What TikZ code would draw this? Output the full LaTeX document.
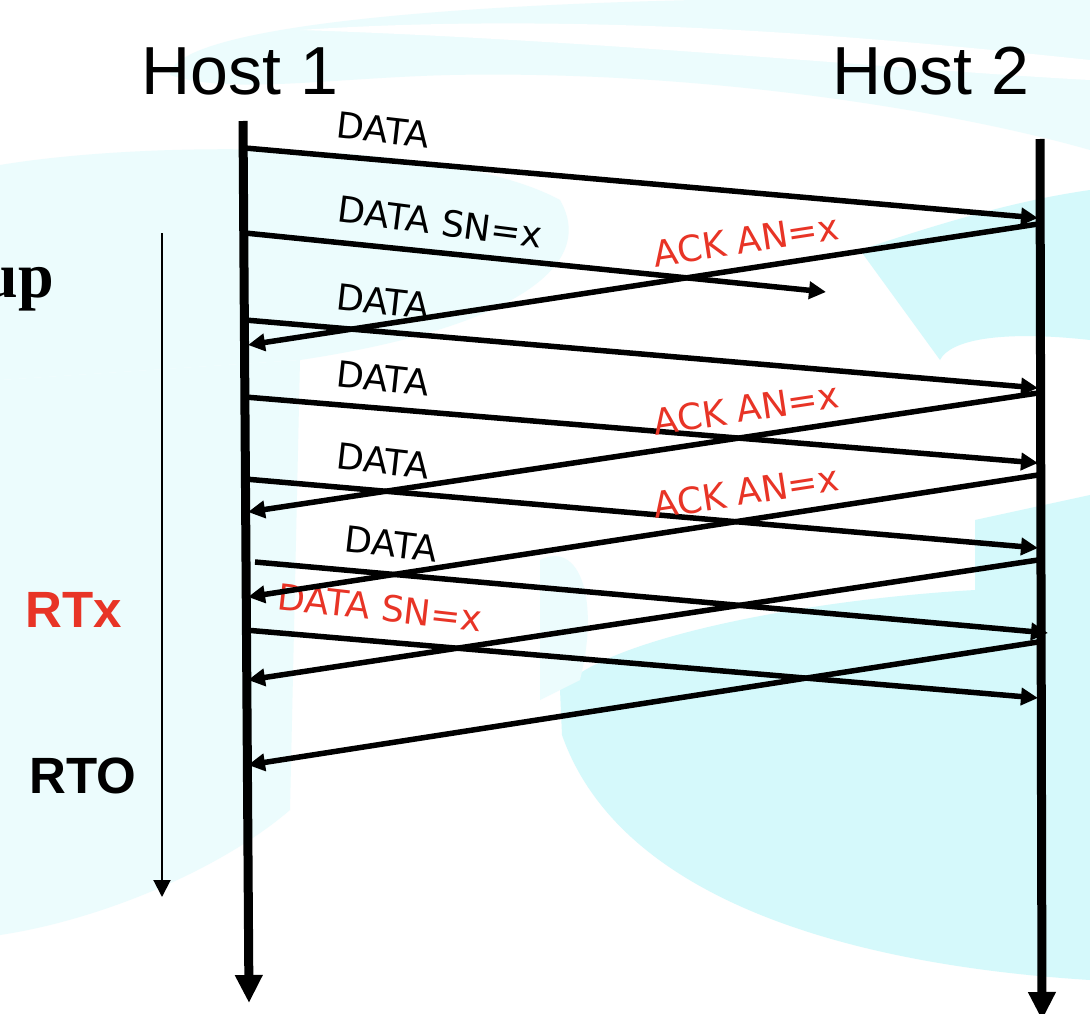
\documentclass[tikz,border=0pt]{standalone}
\usepackage{fontspec}
\setmainfont{Liberation Sans}
\newfontfamily\msgfont{DejaVu Sans}
\newfontfamily\serifbold{Liberation Serif}
\usetikzlibrary{arrows.meta}

\definecolor{ackred}{RGB}{232,52,38}
\definecolor{bglight}{RGB}{236,252,253}
\definecolor{bgcyan}{RGB}{213,249,251}

\tikzset{
  hostline/.style={line width=9pt, -{Triangle[length=28pt,width=26pt]}},
  msg/.style={line width=5.5pt, -{Triangle[length=17pt,width=17pt]}},
  timer/.style={line width=2pt, -{Triangle[length=17pt,width=17pt]}},
  msglbl/.style={font=\msgfont\fontsize{36}{42}\selectfont, sloped, above=11pt},
  hostlbl/.style={font=\fontsize{68}{80}\selectfont, anchor=base},
  sidelbl/.style={font=\bfseries\fontsize{51}{60}\selectfont, anchor=base}
}

\begin{document}
\begin{tikzpicture}[x=1pt, y=-1pt]
  \useasboundingbox (0,0) rectangle (1090,1014);
  \fill[white] (0,0) rectangle (1090,1014);

  % background swooshes
  \fill[bglight] (170,75) .. controls (175,15) and (600,-10) .. (1090,0) -- (1090,150)
    .. controls (950,110) and (700,70) .. (450,75) .. controls (330,78) and (230,95) .. cycle;
  \fill[white] (300,30) .. controls (600,10) and (900,40) .. (1090,60) -- (1090,80)
    .. controls (900,70) and (600,40) .. cycle;
  \fill[bglight] (0,165) .. controls (150,140) and (450,140) .. (560,200)
    .. controls (600,270) and (500,330) .. (300,360) -- (0,380) -- cycle;
  \fill[bglight] (0,380) -- (300,360) -- (290,810) .. controls (220,870) and (100,920) .. (0,935) -- cycle;
  \fill[bgcyan] (860,250) .. controls (950,220) and (1020,200) .. (1090,190) -- (1090,340)
    .. controls (1000,330) and (950,340) .. (940,360) -- cycle;
  \fill[bgcyan] (560,690) .. controls (600,640) and (800,600) .. (975,590) -- (975,520)
    -- (1090,495) -- (1090,980) .. controls (850,965) and (620,900) .. (562,735) -- cycle;
  \fill[bglight] (540,560) .. controls (580,540) and (600,600) .. (580,680) -- (540,700) -- cycle;

  % hosts
  \node[hostlbl] (host1) at (240,95) {Host 1};
  \node[hostlbl] (host2) at (931,95) {Host 2};
  \coordinate (h1top) at (243,121);
  \coordinate (h1bot) at (249,1003);
  \coordinate (h2top) at (1040,139);
  \coordinate (h2bot) at (1042,1020);
  \draw[hostline] (h1top) -- (h1bot);
  \draw[hostline] (h2top) -- (h2bot);

  % timer
  \coordinate (t0) at (162,233);
  \coordinate (t1) at (162,897);
  \draw[timer] (t0) -- (t1);
  \node[font=\serifbold\bfseries\fontsize{64}{70}\selectfont, anchor=base east, inner sep=0pt] (setup) at (54,297) {up};
  \node[sidelbl, text=ackred] (rtx) at (74,627) {RTx};
  \node[sidelbl] (rto) at (83,793) {RTO};

  % data segments
  \foreach \i/\xa/\ya/\xb/\yb/\lbl/\p in {%
    1/245/148/1038/218/DATA/0.17,%
    2/245/233/826/292/{DATA SN=x}/0.33,%
    3/245/320/1038/388/DATA/0.17,%
    4/245/397/1038/463/DATA/0.17,%
    5/245/479/1038/548/DATA/0.17,%
    6/255/562/1048/633/DATA/0.168%
  }{
    \coordinate (s\i) at (\xa,\ya);
    \coordinate (e\i) at (\xb,\yb);
    \draw[msg] (s\i) -- node[msglbl, pos=\p, rotate=-1.5] {\lbl} (e\i);
  }
  \coordinate (s7) at (245,630);
  \coordinate (e7) at (1038,698);
  \draw[msg] (s7) -- node[msglbl, pos=0.166, above=3pt, rotate=-1.5, text=ackred] {DATA SN=x} (e7);

  % acks
  \foreach \i/\ya/\yb in {1/224/345, 2/393/512, 3/475/597, 4/560/680, 5/642/765}{
    \coordinate (r\i) at (1038,\ya);
    \coordinate (l\i) at (248,\yb);
    \draw[msg] (r\i) -- (l\i);
  }
  \foreach \i in {1,2,3}
    \path (r\i) -- node[msglbl, pos=0.364, text=ackred] {ACK AN=x} (l\i);
\end{tikzpicture}
\end{document}
